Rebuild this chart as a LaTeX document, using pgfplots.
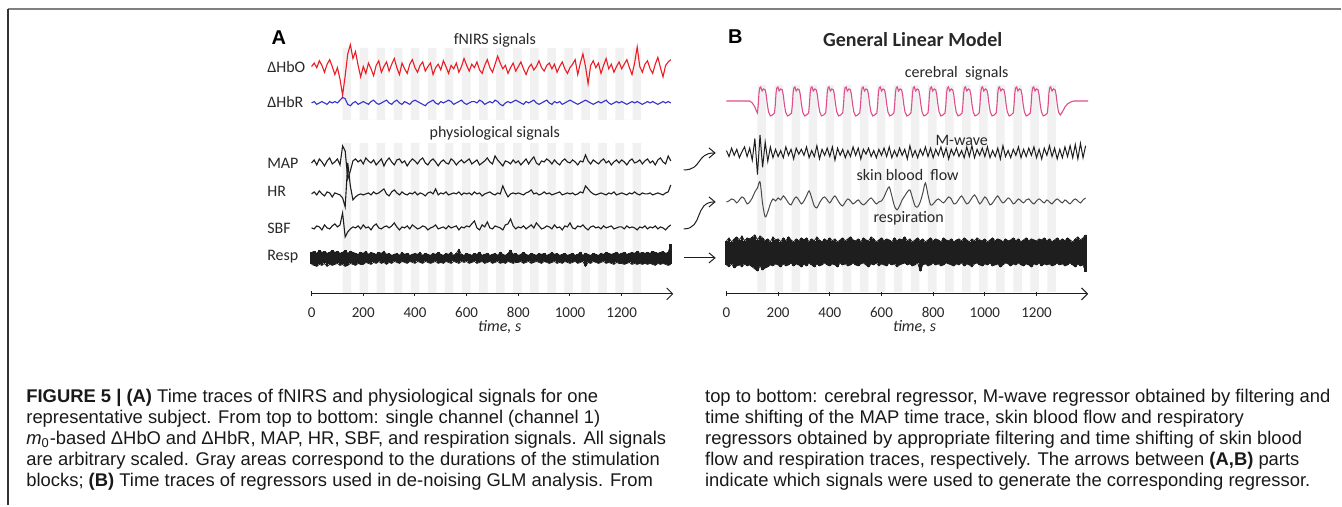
\documentclass[border=0pt]{standalone}
\usepackage{fontspec}
\setmainfont{Liberation Sans}
\newfontfamily\calibri{Carlito}
\usepackage{pgfplots}
\usepackage{pgfplotstable}
\pgfplotsset{compat=1.18}
\usetikzlibrary{arrows.meta}

\definecolor{stripe}{RGB}{241,241,241}
\definecolor{hbo}{RGB}{236,28,36}
\definecolor{hbr}{RGB}{51,51,204}
\definecolor{cer}{RGB}{222,78,140}
\definecolor{trc}{RGB}{30,30,30}
\definecolor{txt}{RGB}{40,40,40}

\newcommand\lab{\calibri\fontsize{8pt}{9.6pt}\selectfont}

% Panel A, 10 s samples (amplitudes in px, arbitrary scale)
\pgfplotstableread{
t hbo hbr map hr sbf rup rlo
0 3 0 0 0 0 6 -6
10 6 1 3 2 -1 7 -7
20 2 -1 -2 -1 2 5 -8
30 8 0 4 3 1 8 -6
40 4 1 1 0 -2 6 -7
50 -2 0 -3 -2 3 7 -5
60 5 -1 2 2 0 5 -8
70 9 1 5 1 -1 6 -6
80 3 0 -1 -3 2 8 -7
90 -4 1 1 1 4 6 -6
100 2 0 4 0 1 7 -5
110 -8 2 -2 -1 3 5 -7
120 -22 4 17 -4 15 6 -6
130 -5 3 12 -13 -9 8 -8
140 14 -1 -16 31 -4 5 -7
150 22 -2 -8 8 -1 7 -5
160 10 0 2 -6 1 6 -6
170 16 1 4 -3 0 5 -7
180 4 -1 1 -1 2 4 -5
190 -6 0 3 0 -1 6 -6
200 3 1 -1 -1 3 5 -6
210 -3 0 5 0 0 7 -4
220 6 -1 2 1 1 4 -5
230 1 1 0 -1 -2 6 -6
240 -5 2 3 2 2 5 -4
250 4 0 -2 0 4 4 -5
260 8 -1 1 1 0 6 -3
270 -2 0 4 3 -1 5 -5
280 3 1 -3 5 1 7 -4
290 7 2 2 0 2 4 -6
300 -1 0 5 -2 0 5 -4
310 5 -1 1 2 2 3 -5
320 10 1 -2 4 5 4 -3
330 2 2 3 1 1 5 -4
340 -4 0 4 -1 -2 3 -5
350 6 -1 0 2 1 6 -3
360 1 1 2 0 0 4 -4
370 -3 0 -3 -1 2 5 -5
380 5 -1 1 1 -1 3 -3
390 9 1 4 0 3 4 -4
400 2 2 2 2 1 5 -5
410 -2 1 -1 -1 -1 4 -3
420 4 0 3 1 0 6 -4
430 7 -1 5 0 2 3 -5
440 -1 -2 0 -2 1 5 -3
450 3 0 -2 1 -2 4 -4
460 6 1 2 2 0 3 -5
470 -4 2 4 0 1 5 -4
480 2 0 1 5 3 4 -3
490 5 -1 -3 -1 -1 6 -5
500 0 1 1 1 0 4 -4
510 8 0 3 0 1 3 -5
520 3 1 0 2 -1 5 -3
530 -3 2 -1 -1 2 4 -4
540 4 1 4 0 0 6 -5
550 1 -1 2 1 1 3 -3
560 6 0 -2 0 2 5 -4
570 -2 1 1 2 -2 9 -5
580 3 2 3 -1 1 4 -3
590 10 0 0 1 0 3 -4
600 4 -1 2 0 2 5 -3
610 -1 0 4 1 1 4 -5
620 5 1 -1 -1 4 3 -4
630 2 1 1 2 7 5 -3
640 7 0 3 0 0 4 -5
650 0 2 -2 1 -2 6 -4
660 -3 1 0 -2 3 3 -3
670 4 -1 2 0 1 4 -5
680 9 0 5 1 6 5 -4
690 2 1 1 2 0 3 -3
700 -2 0 -1 0 -1 4 -5
710 5 2 7 -1 2 5 -4
720 12 1 3 1 1 3 -3
730 6 -1 0 0 0 6 -5
740 1 -2 -3 8 -2 4 -4
750 4 0 2 2 3 3 -5
760 -3 1 1 -3 4 5 -3
770 2 0 -1 0 9 8 -4
780 6 1 3 1 2 4 -5
790 -1 2 0 0 -1 5 -4
800 3 1 2 1 1 3 -4
810 7 0 -2 0 0 4 -3
820 1 -1 1 -1 2 6 -5
830 -4 1 4 1 -1 4 -4
840 2 0 -1 2 1 3 -3
850 5 1 3 4 3 5 -5
860 0 2 6 0 0 4 -4
870 3 0 0 1 5 3 -3
880 8 -1 -2 -1 2 5 -4
890 2 0 2 0 -1 4 -5
900 -1 1 1 2 0 5 -3
910 4 2 4 0 2 3 -4
920 6 0 2 1 1 4 -5
930 1 -1 -1 -1 -1 6 -4
940 5 1 3 0 3 4 -3
950 -2 0 0 1 0 5 -5
960 3 1 -2 2 1 3 -4
970 7 -1 2 -1 -2 4 -5
980 1 0 4 0 2 5 -3
990 -3 1 1 1 1 3 -4
1000 2 2 0 0 5 4 -5
1010 5 1 3 1 0 5 -4
1020 9 0 1 -1 -1 3 -3
1030 -4 -1 -2 0 2 4 -5
1040 6 0 2 2 1 6 -4
1050 14 1 1 1 3 3 -3
1060 3 2 8 8 0 5 -8
1070 -12 1 2 5 -2 4 -4
1080 4 0 -1 2 1 3 -5
1090 8 -1 3 0 2 5 -3
1100 2 0 1 -1 0 4 -4
1110 6 1 -1 0 1 3 -5
1120 -3 0 2 1 -1 5 -4
1130 4 1 4 0 2 4 -3
1140 10 2 0 -1 0 6 -5
1150 1 0 2 1 1 5 -4
1160 5 -1 -2 0 2 4 -5
1170 -2 0 1 2 -1 5 -6
1180 3 1 3 -1 0 6 -4
1190 7 0 0 0 1 4 -5
1200 1 1 3 1 1 5 -5
1210 5 0 1 0 -1 6 -6
1220 9 -1 -2 -1 2 4 -5
1230 2 0 2 1 0 5 -4
1240 -4 1 4 0 1 6 -6
1250 6 0 0 2 0 5 -5
1260 20 1 1 0 -2 7 -6
1270 3 0 3 -1 1 5 -5
1280 -2 -1 -1 1 0 6 -6
1290 5 0 2 0 2 5 -5
1300 8 1 4 0 -1 6 -6
1310 1 0 0 1 1 5 -5
1320 -3 1 2 -1 0 7 -6
1330 5 0 -2 0 2 6 -7
1340 11 -1 3 1 -1 5 -5
1350 2 0 5 0 1 6 -6
1360 -6 1 1 -1 0 7 -5
1370 4 0 -1 1 -2 5 -6
1380 7 1 7 2 1 6 -7
1390 9 0 2 9 3 14 -6
}\tA

% Panel B, 10 s samples
\pgfplotstableread{
t sbf mw rup rlo
0 0 2 12 -12
10 1 -3 15 -14
20 3 4 11 -11
30 2 -2 14 -15
40 -1 3 16 -13
50 2 -4 13 -12
60 5 1 17 -14
70 3 5 12 -11
80 -2 -3 15 -13
90 0 4 14 -12
100 4 -6 16 -14
110 10 12 18 -16
120 14 -18 13 -18
130 20 15 17 -13
140 -2 -12 15 -17
150 -15 9 12 -15
160 -10 -7 14 -14
170 -2 5 11 -12
180 3 -4 16 -13
190 1 3 13 -11
200 4 -3 14 -12
210 2 2 11 -14
220 6 -4 15 -11
230 3 5 12 -13
240 -1 -2 16 -12
250 -3 3 13 -10
260 2 -5 11 -13
270 5 4 14 -11
280 2 -1 12 -12
290 -2 3 15 -14
300 1 -2 13 -11
310 6 5 15 -13
320 11 -4 11 -10
330 4 2 14 -12
340 -4 -3 12 -14
350 -6 6 16 -11
360 -1 -5 13 -13
370 3 3 11 -12
380 5 -2 14 -10
390 2 4 12 -12
400 -1 -3 15 -13
410 3 5 12 -11
420 6 -6 14 -12
430 2 4 11 -14
440 -2 -2 13 -10
450 -4 3 15 -12
460 0 -4 12 -11
470 3 2 14 -13
480 1 -3 16 -12
490 -2 5 13 -10
500 0 -2 12 -12
510 2 4 14 -13
520 -1 -5 11 -11
530 -3 3 15 -10
540 -1 -1 13 -12
550 2 4 12 -14
560 4 -3 16 -11
570 1 2 14 -12
580 -2 -4 11 -10
590 0 3 13 -13
600 1 -2 15 -11
610 5 4 12 -12
620 11 -3 14 -13
630 15 5 13 -10
640 6 -4 11 -12
650 -4 2 15 -11
660 -8 -3 12 -14
670 -4 4 14 -12
680 2 -2 13 -11
690 6 3 16 -10
700 10 -5 12 -12
710 12 6 14 -11
720 4 -3 11 -13
730 -4 2 13 -12
740 -5 -4 15 -10
750 0 3 12 -18
760 9 -2 14 -12
770 19 5 11 -11
780 7 -3 13 -13
790 -3 4 15 -12
800 -2 -4 12 -10
810 1 3 14 -12
820 3 -2 13 -11
830 1 5 11 -13
840 -1 -3 15 -12
850 2 4 13 -10
860 5 -5 12 -11
870 3 3 14 -12
880 -2 -2 11 -13
890 -1 4 13 -11
900 3 -3 14 -12
910 6 2 12 -10
920 2 -4 15 -13
930 -2 5 13 -11
940 0 -3 11 -12
950 4 6 14 -14
960 7 -4 12 -11
970 3 3 15 -10
980 -2 -2 13 -12
990 1 4 12 -13
1000 5 -3 14 -11
1010 2 5 11 -12
1020 -3 -4 13 -10
1030 -1 2 15 -13
1040 3 -3 12 -12
1050 6 4 14 -11
1060 2 -5 13 -14
1070 -1 6 11 -12
1080 1 -3 14 -10
1090 4 2 12 -11
1100 2 -4 13 -13
1110 -2 3 15 -11
1120 0 -2 12 -12
1130 3 5 14 -10
1140 1 -4 11 -12
1150 -1 3 13 -13
1160 2 -3 15 -11
1170 3 4 12 -12
1180 0 -2 14 -14
1190 -2 5 13 -11
1200 1 -4 12 -12
1210 3 3 14 -10
1220 1 -5 13 -13
1230 -1 4 15 -11
1240 2 -2 12 -12
1250 0 6 14 -11
1260 -2 -3 11 -13
1270 1 4 13 -12
1280 3 -5 15 -10
1290 1 3 12 -12
1300 -1 -4 14 -11
1310 2 5 12 -13
1320 0 -3 15 -12
1330 -2 6 13 -10
1340 1 -4 11 -12
1350 3 7 14 -14
1360 1 -5 16 -11
1370 -1 8 13 -13
1380 2 -4 15 -12
1390 4 6 18 -19
}\tB

% cerebral regressor
\pgfplotstableread[row sep=\\]{
t c\\0 0\\90 0\\100 -2\\110 -6\\116 -10\\
120 -12\\123 -4\\126 8\\129 13\\133 14\\138 10\\144 12\\150 11\\154 6\\158 -3\\163 -11\\170 -15\\178 -14\\
186 -12\\189 -4\\192 8\\195 13\\199 14\\204 10\\210 12\\216 11\\220 6\\224 -3\\229 -11\\236 -15\\244 -14\\
252 -12\\255 -4\\258 8\\261 13\\265 14\\270 10\\276 12\\282 11\\286 6\\290 -3\\295 -11\\302 -15\\310 -14\\
318 -12\\321 -4\\324 8\\327 13\\331 14\\336 10\\342 12\\348 11\\352 6\\356 -3\\361 -11\\368 -15\\376 -14\\
384 -12\\387 -4\\390 8\\393 13\\397 14\\402 10\\408 12\\414 11\\418 6\\422 -3\\427 -11\\434 -15\\442 -14\\
450 -12\\453 -4\\456 8\\459 13\\463 14\\468 10\\474 12\\480 11\\484 6\\488 -3\\493 -11\\500 -15\\508 -14\\
516 -12\\519 -4\\522 8\\525 13\\529 14\\534 10\\540 12\\546 11\\550 6\\554 -3\\559 -11\\566 -15\\574 -14\\
582 -12\\585 -4\\588 8\\591 13\\595 14\\600 10\\606 12\\612 11\\616 6\\620 -3\\625 -11\\632 -15\\640 -14\\
648 -12\\651 -4\\654 8\\657 13\\661 14\\666 10\\672 12\\678 11\\682 6\\686 -3\\691 -11\\698 -15\\706 -14\\
714 -12\\717 -4\\720 8\\723 13\\727 14\\732 10\\738 12\\744 11\\748 6\\752 -3\\757 -11\\764 -15\\772 -14\\
780 -12\\783 -4\\786 8\\789 13\\793 14\\798 10\\804 12\\810 11\\814 6\\818 -3\\823 -11\\830 -15\\838 -14\\
846 -12\\849 -4\\852 8\\855 13\\859 14\\864 10\\870 12\\876 11\\880 6\\884 -3\\889 -11\\896 -15\\904 -14\\
912 -12\\915 -4\\918 8\\921 13\\925 14\\930 10\\936 12\\942 11\\946 6\\950 -3\\955 -11\\962 -15\\970 -14\\
978 -12\\981 -4\\984 8\\987 13\\991 14\\996 10\\1002 12\\1008 11\\1012 6\\1016 -3\\1021 -11\\1028 -15\\1036 -14\\
1044 -12\\1047 -4\\1050 8\\1053 13\\1057 14\\1062 10\\1068 12\\1074 11\\1078 6\\1082 -3\\1087 -11\\1094 -15\\1102 -14\\
1110 -12\\1113 -4\\1116 8\\1119 13\\1123 14\\1128 10\\1134 12\\1140 11\\1144 6\\1148 -3\\1153 -11\\1160 -15\\1168 -14\\
1176 -12\\1179 -4\\1182 8\\1185 13\\1189 14\\1194 10\\1200 12\\1206 11\\1210 6\\1214 -3\\1219 -11\\1226 -15\\1234 -14\\
1242 -12\\1245 -4\\1248 8\\1251 13\\1255 14\\1260 10\\1266 12\\1272 11\\1276 6\\1280 -3\\1285 -11\\1292 -14\\1300 -11\\1310 -6\\1320 -3\\1332 -1\\1345 0\\1400 0\\
}\tC

% stimulation blocks (s = 1 inside a block)
\pgfplotstableread[row sep=\\]{
t s\\120 0\\120 1\\153 1\\153 0\\186 0\\186 1\\219 1\\219 0\\252 0\\252 1\\285 1\\285 0\\318 0\\318 1\\351 1\\351 0\\384 0\\384 1\\417 1\\417 0\\450 0\\450 1\\483 1\\483 0\\516 0\\516 1\\549 1\\549 0\\582 0\\582 1\\615 1\\615 0\\648 0\\648 1\\681 1\\681 0\\714 0\\714 1\\747 1\\747 0\\780 0\\780 1\\813 1\\813 0\\846 0\\846 1\\879 1\\879 0\\912 0\\912 1\\945 1\\945 0\\978 0\\978 1\\1011 1\\1011 0\\1044 0\\1044 1\\1077 1\\1077 0\\1110 0\\1110 1\\1143 1\\1143 0\\1176 0\\1176 1\\1209 1\\1209 0\\1242 0\\1242 1\\1275 1\\1275 0\\
}\tS

\pgfplotsset{panel/.style={
  anchor=south west, scale only axis, width=180.95pt, height=127pt,
  xmin=0, xmax=1400, ymin=-294, ymax=-40,
  axis x line=bottom, axis y line=none,
  x axis line style={-{Straight Barb[length=3pt,width=6pt]}, line width=0.5pt, color=trc},
  xtick={0,200,...,1200}, xticklabels={0,200,400,600,800,1000,1200},
  tick style={trc, line width=0.5pt}, major tick length=2.5pt, tick align=center,
  xticklabel style={font=\calibri\fontsize{7.5pt}{9pt}\selectfont, text=txt, anchor=center, yshift=-8pt},
  xlabel={\itshape time, s},
  xlabel style={font=\calibri\fontsize{8pt}{9pt}\selectfont, text=txt, at={(axis description cs:0.52,0)}, anchor=center, yshift=-16.5pt},
  clip=false, enlargelimits=false,
},
band/.style={draw=none, mark=none, forget plot, error bars/.cd, y dir=both, y explicit, error mark=none,
  error bar style={draw=trc, line width=1.35pt}}}

\begin{document}
\begin{tikzpicture}[x=0.5pt,y=-0.5pt]
\fill[white] (0,0) rectangle (1342,506);
% frame
\draw[line width=1pt, color={rgb,255:red,128;green,128;blue,128}] (8,9.5) -- (1341.5,9.5);
\draw[line width=0.7pt, color=black!80] (8,9) -- (8,505.5);

% ---------------- Panel A ----------------
\begin{axis}[panel, at={(155.85pt,-147pt)}]
\addplot[fill=stripe, draw=none] table[x=t, y expr={-120+72*\thisrow{s}}] {\tS};
\addplot[fill=stripe, draw=none] table[x=t, y expr={-293+150*\thisrow{s}}] {\tS};
\addplot[hbo, line width=0.55pt] table[x=t, y expr={1.15*\thisrow{hbo}-70}] {\tA};
\addplot[hbr, line width=0.55pt] table[x=t, y expr={1.4*\thisrow{hbr}-103}] {\tA};
\addplot[trc, line width=0.55pt] table[x=t, y expr={\thisrow{map}-163}] {\tA};
\addplot[trc, line width=0.55pt] table[x=t, y expr={\thisrow{hr}-194}] {\tA};
\addplot[trc, line width=0.55pt] table[x=t, y expr={\thisrow{sbf}-228}] {\tA};
\addplot[band] table[x=t, y expr={-258.5}, y error plus expr={\thisrow{rup}}, y error minus expr={-\thisrow{rlo}}] {\tA};
\addplot[trc, line width=0.4pt] table[x=t, y expr={\thisrow{rup}-258.5}] {\tA};
\addplot[trc, line width=0.4pt] table[x=t, y expr={\thisrow{rlo}-258.5}] {\tA};
\end{axis}

% ---------------- Panel B ----------------
\begin{axis}[panel, at={(363.35pt,-147pt)}]
\addplot[fill=stripe, draw=none] table[x=t, y expr={-292+207*\thisrow{s}}] {\tS};
\addplot[cer, line width=0.55pt] table[x=t, y expr={\thisrow{c}-101}] {\tC};
\addplot[trc, line width=0.5pt] table[x=t, y expr={1.2*\thisrow{mw}-153}] {\tB};
\addplot[trc!80, line width=0.5pt, smooth, tension=0.5] table[x=t, y expr={\thisrow{sbf}-202}] {\tB};
\addplot[band] table[x=t, y expr={-253}, y error plus expr={\thisrow{rup}}, y error minus expr={-\thisrow{rlo}}] {\tB};
\addplot[trc, line width=0.4pt] table[x=t, y expr={\thisrow{rup}-253}] {\tB};
\addplot[trc, line width=0.4pt] table[x=t, y expr={\thisrow{rlo}-253}] {\tB};
\end{axis}

% labels panel A
\begin{scope}[every node/.style={text=txt, inner sep=0pt}]
\node[font=\fontsize{10pt}{12pt}\selectfont\bfseries, text=black] at (279,38) {A};
\node[font=\lab] at (495,40) {fNIRS signals};
\node[font=\lab] at (495,133) {physiological signals};
\node[font=\lab, anchor=west] at (267,67) {ΔHbO};
\node[font=\lab, anchor=west] at (267,102) {ΔHbR};
\node[font=\lab, anchor=west] at (267,163) {MAP};
\node[font=\lab, anchor=west] at (267,191) {HR};
\node[font=\lab, anchor=west] at (267,228) {SBF};
\node[font=\lab, anchor=west] at (267,257) {Resp};
% labels panel B
\node[font=\fontsize{10pt}{12pt}\selectfont\bfseries, text=black] at (735.5,37) {B};
\node[font=\calibri\fontsize{10pt}{12pt}\selectfont\bfseries] at (913,40) {General Linear Model};
\node[font=\lab] at (957,73) {cerebral\ \ signals};
\node[font=\lab] at (962,140) {M-wave};
\node[font=\lab] at (908,175) {skin blood\ \ flow};
\node[font=\lab] at (909,218) {respiration};
\end{scope}

% arrows from A to B
\draw[trc, line width=0.5pt, -{Straight Barb[length=3pt,width=5pt]}] (684,170) .. controls (703,170) and (696,153) .. (716,153);
\draw[trc, line width=0.5pt, -{Straight Barb[length=3pt,width=5pt]}] (684,229) .. controls (704,229) and (694,202) .. (716,202);
\draw[trc, line width=0.5pt, -{Straight Barb[length=3pt,width=5pt]}] (684,258) -- (716,258);

% caption
\node[anchor=base west, inner sep=0pt, text=black!90] at (26,403) {\parbox[t]{320pt}{\fontsize{9.2pt}{10.5pt}\selectfont\raggedright
\textbf{FIGURE 5 | (A)} Time traces of fNIRS and physiological signals for one\\
representative subject. From top to bottom: single channel (channel 1)\\
\textit{m}\textsubscript{0}-based ΔHbO and ΔHbR, MAP, HR, SBF, and respiration signals. All signals\\
are arbitrary scaled. Gray areas correspond to the durations of the stimulation\\
blocks; \textbf{(B)} Time traces of regressors used in de-noising GLM analysis. From}};
\node[anchor=base west, inner sep=0pt, text=black!90] at (705,403) {\parbox[t]{316pt}{\fontsize{9.2pt}{10.5pt}\selectfont\raggedright
top to bottom: cerebral regressor, M-wave regressor obtained by filtering and\\
time shifting of the MAP time trace, skin blood flow and respiratory\\
regressors obtained by appropriate filtering and time shifting of skin blood\\
flow and respiration traces, respectively. The arrows between \textbf{(A,B)} parts\\
indicate which signals were used to generate the corresponding regressor.}};
\end{tikzpicture}
\end{document}
